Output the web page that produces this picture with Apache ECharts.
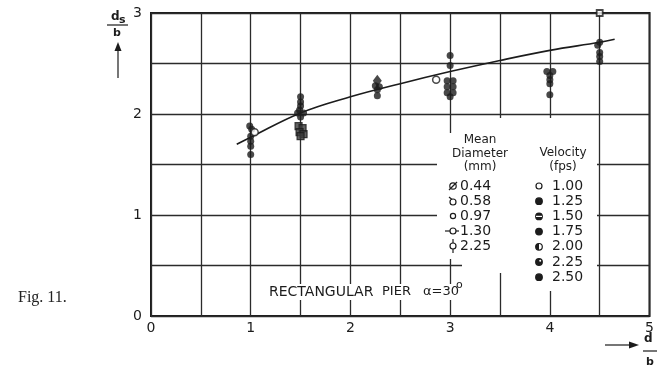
<!DOCTYPE html>
<html><head><meta charset="utf-8">
<script src="https://cdn.jsdelivr.net/npm/echarts@6/dist/echarts.min.js"></script>
<style>html,body{margin:0;padding:0;background:#fff}#c{width:657px;height:366px}</style>
</head><body><div id="c"></div>
<script>
// ---- data ----
const xTicks = [0, 1, 2, 3, 4, 5];
const yTicks = [0, 1, 2, 3];
// filled (dark) observation markers: [d/b, ds/b]
const filledPts = [
  [0.99,1.88],[1.01,1.85],[1.0,1.78],[1.0,1.73],[1.0,1.68],[1.0,1.60],
  [1.5,2.17],[1.5,2.12],[1.5,2.08],[1.49,2.04],[1.47,2.01],[1.53,2.01],[1.5,1.97],
  [2.25,2.28],[2.29,2.27],[2.27,2.24],[2.27,2.18],
  [3.0,2.58],[3.0,2.48],[2.97,2.33],[3.03,2.33],[2.97,2.27],[3.03,2.27],[2.97,2.21],[3.03,2.21],[3.0,2.17],
  [3.97,2.42],[4.03,2.42],[4.0,2.38],[4.0,2.34],[4.0,2.30],[4.0,2.19],
  [4.5,2.71],[4.48,2.68],[4.5,2.61],[4.5,2.57],[4.5,2.52]
];
const openPts = [[1.04,1.82],[2.86,2.34]];
const squarePts = [[1.48,1.88],[1.52,1.86],[1.49,1.82],[1.53,1.80],[1.5,1.78]];
const topSquarePts = [[4.5,3.0]];
const diamondPts = [[2.27,2.33]];
// fitted curve
const curveX = [0.86, 1.0, 1.5, 2.0, 2.5, 3.0, 3.5, 4.0, 4.5, 4.65];
const curveY = [1.70, 1.77, 2.01, 2.17, 2.30, 2.42, 2.53, 2.63, 2.71, 2.74];
const diamLabels = ['0.44','0.58','0.97','1.30','2.25'];
const velLabels = ['1.00','1.25','1.50','1.75','2.00','2.25','2.50'];

const ink = '#1c1c1c';
const font = 'DejaVu Sans';
const chart = echarts.init(document.getElementById('c'));

const g = [];
// occluding white areas (legend / caption)
function wrect(x,y,w,h){ g.push({type:'rect', shape:{x,y,width:w,height:h}, style:{fill:'#fff'}, z:1, silent:true}); }
wrect(437,133,40,126); wrect(462,118,135,141); wrect(462,259,135,14); wrect(510,272,87,19);
wrect(265,284,200,16);
function txt(x,y,s,opt){ g.push({type:'text', x, y, style:Object.assign({text:s, fill:ink, font:'13px "'+font+'"', align:'left', verticalAlign:'middle'}, opt||{}), z:5}); }
// legend headers
txt(480,140,'Mean',{align:'center',font:'12px "'+font+'"'});
txt(480,154,'Diameter',{align:'center',font:'12px "'+font+'"'});
txt(480,167,'(mm)',{align:'center',font:'12px "'+font+'"'});
txt(563,153,'Velocity',{align:'center',font:'12px "'+font+'"'});
txt(563,167,'(fps)',{align:'center',font:'12px "'+font+'"'});
const lw = 1.2;
function circ(cx,cy,r,fill){ g.push({type:'circle', shape:{cx,cy,r}, style:{fill:fill, stroke:ink, lineWidth:lw}, z:5}); }
function seg(x1,y1,x2,y2,c){ g.push({type:'line', shape:{x1,y1,x2,y2}, style:{stroke:c||ink, lineWidth:lw}, z:6}); }
diamLabels.forEach((s,i)=>{
  const y = 186 + i*15, cx = 453;
  txt(460,y,s,{font:'14px "'+font+'"'});
  if(i===0){ circ(cx,y,3.2,'#fff'); seg(cx-4,y+4,cx+4,y-4); }
  else if(i===1){ circ(cx,y+1,3,'#fff'); seg(cx-4,y-4,cx-1,y-1.5); }
  else if(i===2){ circ(cx,y,2.6,'#fff'); }
  else if(i===3){ circ(cx,y,3,'#fff'); seg(cx-8,y,cx-3,y); seg(cx+3,y,cx+6,y); }
  else { circ(cx,y,3,'#fff'); seg(cx,y-7,cx,y-3); seg(cx,y+3,cx,y+7); }
});
velLabels.forEach((s,i)=>{
  const y = 186 + i*15.2, cx = 539;
  txt(552,y,s,{font:'14px "'+font+'"'});
  if(i===0){ circ(cx,y,3,'#fff'); }
  else if(i===2){ circ(cx,y,3.3,ink); seg(cx-3,y,cx+3,y,'#fff'); }
  else if(i===4){ circ(cx,y,3.3,'#fff'); g.push({type:'sector', shape:{cx,cy:y,r:3.3,startAngle:Math.PI/2,endAngle:Math.PI*1.5}, style:{fill:ink}, z:6}); }
  else if(i===5){ circ(cx,y,3.3,ink); g.push({type:'circle', shape:{cx:cx+1.2,cy:y-1.2,r:1}, style:{fill:'#fff'}, z:6}); }
  else { circ(cx,y,3.3,ink); }
});
// caption
txt(269,292,'RECTANGULAR',{font:'14px "'+font+'"'});
txt(382,292,'PIER',{font:'13px "'+font+'"'});
txt(423,292,'\u03b1=30',{font:'13px "'+font+'"'});
txt(456,285,'o',{font:'11px "'+font+'"'});
// y-axis label ds/b with arrow
txt(111,17,'d',{font:'bold 12px "'+font+'"'});
txt(119,20,'s',{font:'bold 11px "'+font+'"'});
seg(107,25,128,25);
txt(117,33,'b',{font:'bold 11px "'+font+'"',align:'center'});
seg(118,50,118,78);
g.push({type:'polygon', shape:{points:[[118,42],[114.5,51],[121.5,51]]}, style:{fill:ink}, z:5});
// x-axis label arrow and d/b
seg(605,345,630,345);
g.push({type:'polygon', shape:{points:[[639,345],[629,341.5],[629,348.5]]}, style:{fill:ink}, z:5});
txt(644,339,'d',{font:'bold 12px "'+font+'"'});
seg(643,351,657,351);
txt(650,362,'b',{font:'bold 11px "'+font+'"',align:'center'});
// figure number
txt(18,298,'Fig. 11.',{font:'16px "Liberation Serif"', fill:'#222'});

const axisCommon = {
  type:'value', min:0, interval:0.5,
  axisLine:{show:false}, axisTick:{show:false},
  splitLine:{show:true, lineStyle:{color:'#2b2b2b', width:1.3}},
  axisLabel:{color:ink, fontFamily:font, fontSize:14,
    formatter: v => (Math.abs(v-Math.round(v))<1e-9 ? String(Math.round(v)) : '')}
};
chart.setOption({
  animation:false,
  backgroundColor:'#fff',
  grid:{left:151, top:13, right:0, bottom:50, show:true, borderColor:ink, borderWidth:2, backgroundColor:'transparent'},
  xAxis:Object.assign({}, axisCommon, {max:5, axisLabel:Object.assign({}, axisCommon.axisLabel, {margin:5, showMaxLabel:true})}),
  yAxis:Object.assign({}, axisCommon, {max:3, axisLabel:Object.assign({}, axisCommon.axisLabel, {margin:9})}),
  graphic:{elements:g},
  series:[
    {type:'line', data:curveX.map((x,i)=>[x,curveY[i]]), smooth:0.4, symbol:'none', lineStyle:{color:ink, width:1.6}, z:3},
    {type:'scatter', data:filledPts, symbol:'circle', symbolSize:7, itemStyle:{color:ink}, z:4},
    {type:'scatter', data:openPts, symbol:'circle', symbolSize:7, itemStyle:{color:'#fff', borderColor:ink, borderWidth:1.5}, z:4},
    {type:'scatter', data:squarePts, symbol:'rect', symbolSize:7, itemStyle:{color:'#3a3a3a', borderColor:ink, borderWidth:1.2}, z:4},
    {type:'scatter', data:topSquarePts, symbol:'rect', symbolSize:6, itemStyle:{color:'#fff', borderColor:ink, borderWidth:1.8}, z:4},
    {type:'scatter', data:diamondPts, symbol:'diamond', symbolSize:[9,12], itemStyle:{color:ink}, z:4}
  ]
});
</script></body></html>
